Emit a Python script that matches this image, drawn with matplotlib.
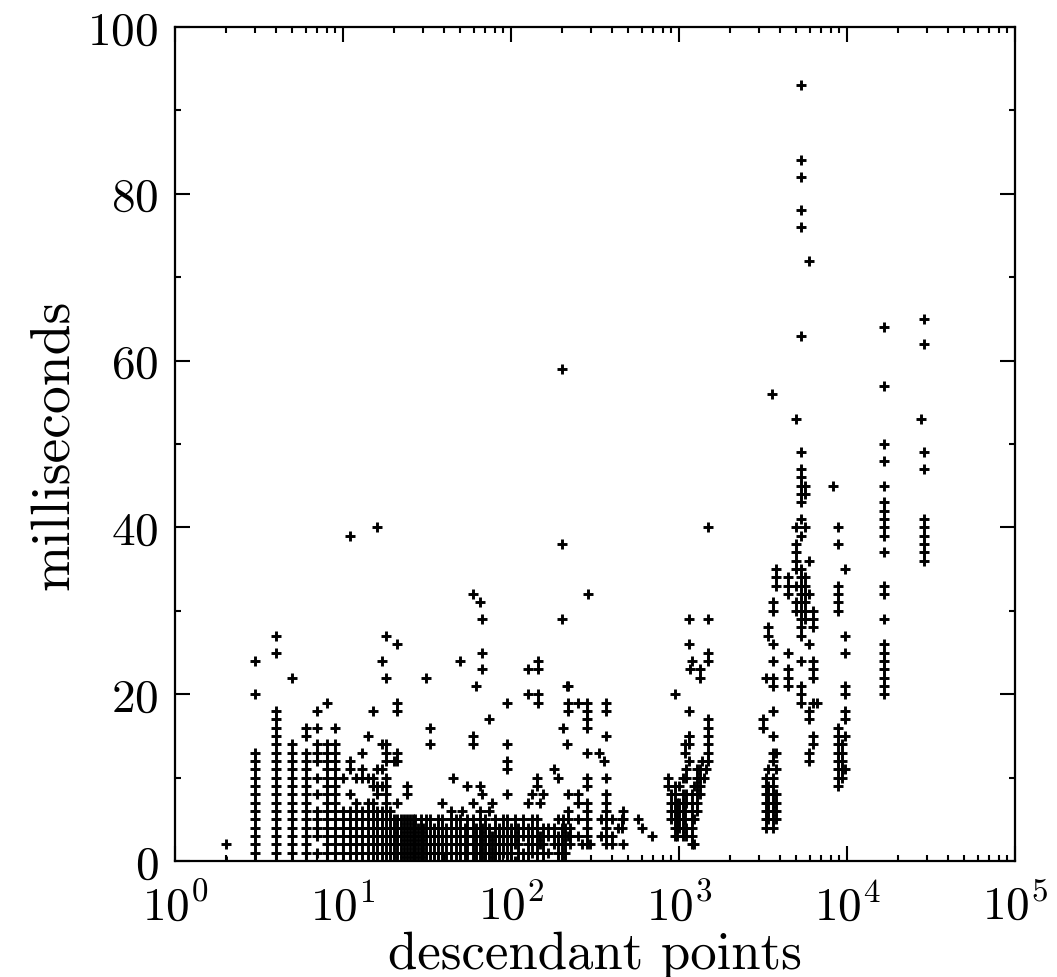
import numpy as np
import matplotlib
matplotlib.use("Agg")
import matplotlib.pyplot as plt
from matplotlib.ticker import MultipleLocator, FixedLocator, FuncFormatter, NullFormatter, LogLocator

plt.rcParams['font.family'] = ['cmr10', 'DejaVu Serif']
plt.rcParams['mathtext.fontset'] = 'cm'
plt.rcParams['axes.unicode_minus'] = False
plt.rcParams['axes.formatter.use_mathtext'] = True

# ── Data: (descendant points, [milliseconds ...]) columns ──
cols_1_10 = [
    (2, [0, 2]),
    (3, [0, 1, 2, 3, 4, 5, 6, 7, 8, 9, 10, 11, 12, 13, 20, 24]),
    (4, [0, 1, 2, 3, 4, 5, 6, 7, 8, 9, 10, 11, 12, 13, 14, 15, 16, 17, 18, 25, 27]),
    (5, [0, 1, 2, 3, 4, 5, 6, 7, 8, 9, 10, 11, 12, 13, 14, 22]),
    (6, [0, 1, 2, 3, 4, 5, 6, 7, 8, 9, 10, 11, 12, 13, 15, 16]),
    (7, [1, 3, 4, 5, 6, 8, 10, 12, 13, 14, 16, 18]),
    (8, [0, 1, 2, 3, 4, 5, 6, 7, 8, 9, 10, 11, 12, 13, 14, 19]),
    (9, [0, 1, 2, 3, 4, 5, 6, 7, 8, 9, 10, 11, 12, 13, 14, 16]),
]

cols_10_100 = [
    (10, [0, 1, 2, 3, 4, 5, 6, 10]),
    (11, [0, 1, 2, 3, 4, 5, 6, 8, 11, 12, 39]),
    (12, [0, 1, 2, 3, 4, 5, 6, 7, 10]),
    (13, [0, 1, 2, 3, 4, 5, 6, 10, 11, 13]),
    (14, [0, 1, 2, 3, 4, 5, 6, 7, 10, 15]),
    (15, [0, 1, 2, 3, 4, 5, 6, 7, 9, 10, 18]),
    (16, [0, 1, 2, 3, 4, 5, 6, 8, 9, 11, 40]),
    (17, [0, 1, 2, 3, 4, 5, 6, 9, 11, 14, 24]),
    (18, [0, 1, 2, 3, 4, 5, 6, 7, 8, 9, 10, 12, 13, 14, 22, 27]),
    (19, [0, 1, 2, 3, 4, 5, 6]),
    (20, [0, 1, 2, 3, 4, 5, 12]),
    (21, [0, 1, 2, 3, 4, 5, 7, 12, 13, 18, 19, 26]),
    (22, [0, 1, 2, 3, 4, 5]),
    (23, [0, 1, 2, 3, 4, 5]),
    (24, [0, 1, 2, 3, 4, 5, 8, 9]),
    (25, [0, 1, 2, 3, 4, 5]),
    (26, [0, 1, 2, 3, 4, 5]),
    (27, [0, 1, 2, 3, 4, 5]),
    (28, [0, 1, 2, 3, 4]),
    (29, [0, 1, 2, 3, 4, 5]),
    (30, [0, 1, 2, 3, 4]),
    (31, [0, 1, 2, 3, 4, 5, 22]),
    (33, [0, 1, 2, 3, 4, 5, 14, 16]),
    (35, [0, 1, 2, 3, 4]),
    (37, [0, 1, 2, 3, 4, 5]),
    (39, [0, 1, 2, 3, 4, 5, 7]),
    (41, [0, 1, 2, 3, 4]),
    (44, [0, 1, 2, 3, 4, 5, 6]),
    (45, [10]),
    (47, [0, 1, 2, 3, 4, 5]),
    (50, [0, 1, 2, 3, 4, 5, 24]),
    (51, [6]),
    (53, [0, 1, 2, 3, 4]),
    (55, [0, 1, 2, 3, 4, 5, 9]),
    (59, [0, 1, 2, 3, 4, 5, 7, 14, 15, 32]),
    (62, [0, 1, 2, 3, 4, 21]),
    (65, [0, 1, 2, 3, 4, 5, 6, 9, 31]),
    (67, [0, 1, 2, 3, 4, 8, 23, 25, 29]),
    (70, [0, 1, 2, 3, 4, 5]),
    (74, [0, 1, 2, 3, 4, 6, 17]),
    (77, [0, 1, 2, 3, 7]),
    (80, [0, 1, 2, 3, 4, 5]),
    (85, [0, 1, 2, 3, 4]),
    (90, [1, 2, 3, 4, 5]),
    (95, [0, 1, 2, 3, 4, 5, 8, 11, 12, 14, 19]),
]

cols_100_1000 = [
    (100, [0, 1, 2, 3, 4]),
    (105, [0, 2, 3, 4, 5]),
    (110, [0, 1, 2, 3, 4]),
    (118, [0, 1, 3, 4, 5]),
    (126, [0, 1, 2, 3, 4, 7, 20, 23]),
    (133, [1, 2, 3, 4, 5, 8]),
    (142, [0, 1, 2, 3, 4, 5, 9, 10]),
    (145, [19, 20, 23, 24]),
    (148, [2, 3, 7]),
    (155, [0, 1, 2, 3, 4, 8]),
    (165, [1, 3, 4]),
    (180, [2, 3, 4, 11]),
    (190, [0, 1, 2, 3, 5, 10]),
    (200, [0, 1, 2, 3, 4, 29, 38, 59]),
    (203, [5, 16]),
    (210, [0, 1, 2, 3, 4]),
    (215, [14, 21]),
    (218, [3, 5, 6, 8, 18, 19, 21]),
    (225, [2, 3, 4]),
    (250, [3, 5, 7, 8, 19]),
    (265, [2]),
    (285, [2, 3, 4, 5, 6, 7, 9, 10, 13, 16, 17, 18, 19]),
    (287, [32]),
    (295, [2]),
    (335, [13]),
    (345, [3, 5]),
    (360, [12]),
    (370, [2, 3, 4, 5, 6, 7, 8, 10, 15, 18, 19]),
    (400, [2, 3, 5]),
    (435, [4]),
    (455, [4, 5]),
    (465, [2, 5, 6]),
    (570, [5]),
    (600, [4]),
    (690, [3]),
    (860, [9, 10]),
    (900, [5, 6, 7, 8]),
    (943, [3, 4, 5, 6, 7, 8, 9, 20]),
    (975, [3, 4, 5, 6, 7]),
]

cols_1000_10000 = [
    (1000, [4, 5, 6, 7, 9]),
    (1050, [3, 4, 5, 6, 7, 8, 10]),
    (1090, [5, 6, 13, 14]),
    (1100, [3, 4, 7, 8, 10, 11]),
    (1140, [15, 26, 29]),
    (1150, [12, 14, 15, 18]),
    (1170, [23]),
    (1190, [2, 3, 4, 5, 6, 7, 8]),
    (1200, [24]),
    (1220, [2, 5, 9]),
    (1280, [6, 7, 8, 9, 10, 11]),
    (1330, [8, 9, 10, 11, 22, 23]),
    (1370, [12]),
    (1400, [10]),
    (1450, [11]),
    (1490, [12, 13, 14, 15, 16, 17, 24, 25, 29, 40]),
    (3170, [16, 17]),
    (3300, [4, 5, 6, 7, 8, 9, 10, 22]),
    (3400, [5, 6, 7, 8, 9, 11, 27, 28]),
    (3560, [56]),
    (3650, [4, 5, 6, 7, 8, 9, 10, 12, 13, 15, 18, 21, 22, 24, 26, 30, 31]),
    (3800, [5, 6, 7, 8, 11, 13, 33, 34, 35]),
    (4450, [21, 22, 23, 25, 32, 33, 34]),
    (4970, [30, 31, 33, 35, 36, 37, 38, 40, 53]),
    (5320, [19, 20, 21, 24, 27, 28, 29, 30, 31, 32, 33, 34, 35, 39, 41, 43,
            44, 45, 46, 47, 49, 63, 76, 78, 82, 84, 93]),
    (5600, [29, 30, 31, 32, 33, 34, 40, 44, 45]),
    (5900, [12, 13, 17, 18, 26, 32, 36, 72]),
    (6300, [14, 15, 19, 22, 23, 24, 28, 29, 30]),
    (6600, [19]),
    (8260, [45]),
    (8840, [9, 10, 11, 12, 13, 14, 15, 16, 30, 31, 32, 33, 38, 40]),
    (9300, [10, 11, 12, 13, 14]),
    (9700, [11, 15, 17, 18, 20, 21, 25, 27, 35]),
]

cols_10000_up = [
    (16600, [20, 21, 22, 23, 24, 25, 26, 29, 32, 33, 37, 39, 40, 41, 42, 43,
             45, 48, 50, 57, 64]),
    (27500, [53]),
    (28700, [36, 37, 38, 39, 40, 41, 47, 49, 62, 65]),
]

all_cols = cols_1_10 + cols_10_100 + cols_100_1000 + cols_1000_10000 + cols_10000_up
xs = [x for x, ys in all_cols for _ in ys]
ys = [y for _, yl in all_cols for y in yl]

x_ticks = [1, 10, 100, 1000, 10000, 100000]
y_ticks = [0, 20, 40, 60, 80, 100]

# ── Plot ──
fig = plt.figure(figsize=(10.57, 9.78), dpi=100)
ax = fig.add_axes([175 / 1057, 1 - 862 / 978, 840 / 1057, 834 / 978])

ax.plot(xs, ys, linestyle='none', marker='+', color='black', markersize=7, markeredgewidth=2.1)

ax.set_xscale('log')
ax.set_xlim(1, 1e5)
ax.set_ylim(0, 100)

ax.xaxis.set_major_locator(FixedLocator(x_ticks))
ax.xaxis.set_minor_locator(LogLocator(base=10, subs=np.arange(2, 10), numticks=20))
ax.xaxis.set_major_formatter(FuncFormatter(lambda v, p: r'$10^{%d}$' % int(round(np.log10(v)))))
ax.xaxis.set_minor_formatter(NullFormatter())
ax.yaxis.set_major_locator(FixedLocator(y_ticks))
ax.yaxis.set_minor_locator(MultipleLocator(10))

ax.tick_params(which='both', direction='in', top=True, right=True, width=1.5)
ax.tick_params(which='major', length=11, labelsize=34)
ax.tick_params(which='minor', length=4.5)
ax.tick_params(axis='y', which='major', pad=12)
ax.tick_params(axis='x', which='major', pad=15)
for s in ax.spines.values():
    s.set_linewidth(1.6)

ax.set_xlabel("descendant points", fontsize=38, labelpad=2)
ax.set_ylabel("milliseconds", fontsize=40, labelpad=6)

fig.savefig("out.png", dpi=100, facecolor='white')
